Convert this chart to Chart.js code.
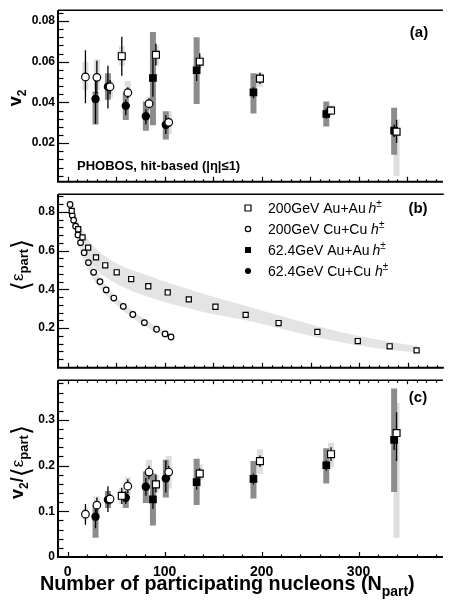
<!DOCTYPE html>
<html>
<head>
<meta charset="utf-8">
<script src="https://cdn.jsdelivr.net/npm/chart.js@4.4.0/dist/chart.umd.min.js"></script>
<style>
  html, body { margin: 0; padding: 0; background: #fff; overflow: hidden; }
  #wrap { position: relative; width: 449px; height: 602px; }
  canvas { position: absolute; left: 0; }
</style>
</head>
<body>
<div id="wrap">
  <canvas id="panelA" width="449" height="192" style="top:0px"></canvas>
  <canvas id="panelB" width="449" height="194" style="top:184px"></canvas>
  <canvas id="panelC" width="449" height="232" style="top:370px"></canvas>
</div>
<script>
// ---- data ----
const xMin = -10, xMax = 387;
const xTickLabels = [0, 100, 200, 300];
const v2Ticks = [0.02, 0.04, 0.06, 0.08];
const epsTicks = [0.2, 0.4, 0.6, 0.8];
const ratioTicks = [0, 0.1, 0.2, 0.3];

// 200 GeV Au+Au (open squares)
const auAu200N = [55.8, 91.0, 136.2, 198.3, 271.6, 339.2];
const auAu200V2 = [0.0627, 0.0634, 0.0600, 0.0517, 0.0360, 0.0256];
const auAu200V2Stat = [[0.0531, 0.0723], [0.0581, 0.0688], [0.0566, 0.0642], [0.0490, 0.0546], [0.0340, 0.0380], [0.0200, 0.0314]];
const auAu200V2Sys = [[0.0581, 0.0676], [0.0581, 0.0680], [0.0572, 0.0627], [0.0477, 0.0547], [0.0337, 0.0386], [0.0039, 0.0317]];
const auAu200R = [0.134, 0.159, 0.1826, 0.210, 0.225, 0.2714];
const auAu200RStat = [[0.116, 0.1516], [0.141, 0.180], [0.1727, 0.194], [0.197, 0.222], [0.210, 0.240], [0.210, 0.317]];
const auAu200RSys = [[0.116, 0.1516], [0.141, 0.180], [0.168, 0.203], [0.182, 0.236], [0.196, 0.250], [0.042, 0.337]];

// 62.4 GeV Au+Au (filled squares)
const auAu62N = [87.9, 133.0, 191.6, 266.7, 336.7];
const auAu62V2 = [0.0520, 0.0558, 0.0449, 0.0343, 0.0261];
const auAu62V2Stat = [[0.0428, 0.0619], [0.0505, 0.0611], [0.0421, 0.0474], [0.0320, 0.0370], [0.0230, 0.0291]];
const auAu62V2Sys = [[0.0288, 0.0746], [0.0392, 0.0720], [0.0345, 0.0543], [0.0282, 0.0404], [0.0143, 0.0374]];
const auAu62R = [0.126, 0.164, 0.171, 0.2008, 0.2566];
const auAu62RStat = [[0.1057, 0.1516], [0.148, 0.180], [0.1586, 0.183], [0.189, 0.211], [0.234, 0.278]];
const auAu62RSys = [[0.069, 0.183], [0.114, 0.215], [0.128, 0.210], [0.161, 0.238], [0.1425, 0.369]];

// 200 GeV Cu+Cu (open circles)
const cuCu200N = [18.3, 30.1, 43.7, 62.0, 83.9, 104.2];
const cuCu200V2 = [0.0525, 0.0523, 0.0477, 0.0448, 0.0394, 0.0302];
const cuCu200V2Stat = [[0.0396, 0.0656], [0.0440, 0.0605], [0.0440, 0.0510], [0.0420, 0.0475], [0.0370, 0.0420], [0.0280, 0.0325]];
const cuCu200V2Sys = [[0.0460, 0.0600], [0.0461, 0.0612], [0.0424, 0.0505], [0.0424, 0.0505], [0.0360, 0.0428], [0.0245, 0.0357]];
const cuCu200R = [0.0938, 0.1135, 0.1268, 0.155, 0.186, 0.186];
const cuCu200RStat = [[0.0706, 0.116], [0.095, 0.130], [0.115, 0.138], [0.140, 0.170], [0.170, 0.200], [0.170, 0.200]];
const cuCu200RSys = [[0.082, 0.106], [0.0917, 0.1325], [0.116, 0.137], [0.135, 0.175], [0.1586, 0.213], [0.150, 0.221]];

// 62.4 GeV Cu+Cu (filled circles)
const cuCu62N = [28.7, 41.5, 59.9, 80.6, 101.2];
const cuCu62V2 = [0.0417, 0.0477, 0.0383, 0.0332, 0.0290];
const cuCu62V2Stat = [[0.0294, 0.0540], [0.0370, 0.0580], [0.0337, 0.0413], [0.0291, 0.0367], [0.0245, 0.0337]];
const cuCu62V2Sys = [[0.0291, 0.0454], [0.0413, 0.0543], [0.0314, 0.0447], [0.0261, 0.0405], [0.0218, 0.0357]];
const cuCu62R = [0.088, 0.1255, 0.1298, 0.1537, 0.172];
const cuCu62RStat = [[0.063, 0.113], [0.0987, 0.155], [0.116, 0.144], [0.134, 0.1727], [0.141, 0.211]];
const cuCu62RSys = [[0.042, 0.113], [0.107, 0.1446], [0.107, 0.1425], [0.118, 0.187], [0.130, 0.213]];

// participant eccentricity (panel b)
const epsAuN = [4.1, 10.8, 15.2, 21.0, 29.1, 38.6, 50.4, 65.3, 82.9, 102.9, 124.6, 152.0, 183.1, 217.0, 256.9, 298.5, 331.3, 359.0];
const epsAu = [0.805, 0.71, 0.668, 0.615, 0.565, 0.524, 0.488, 0.453, 0.416, 0.384, 0.348, 0.31, 0.268, 0.226, 0.18, 0.133, 0.106, 0.085];
const epsCuN = [2.4, 4.7, 6.1, 8.1, 10.5, 13.2, 16.9, 21.3, 26.7, 33.2, 39.6, 47.4, 57.2, 67.0, 78.9, 91.4, 100.2, 106.3];
const epsCu = [0.838, 0.782, 0.757, 0.726, 0.681, 0.641, 0.589, 0.538, 0.488, 0.44, 0.397, 0.355, 0.312, 0.27, 0.228, 0.194, 0.17, 0.154];
const bandAuN = [2, 10, 20, 30, 50, 83, 134, 183, 220, 257, 298, 331, 360];
const bandAuHi = [0.86, 0.76, 0.665, 0.605, 0.535, 0.47, 0.385, 0.315, 0.262, 0.21, 0.16, 0.13, 0.107];
const bandAuLo = [0.78, 0.665, 0.565, 0.50, 0.43, 0.36, 0.29, 0.24, 0.197, 0.152, 0.112, 0.088, 0.074];
const bandCuN = [2, 10, 20, 30, 47, 67, 91, 108];
const bandCuHi = [0.87, 0.72, 0.575, 0.485, 0.375, 0.29, 0.21, 0.165];
const bandCuLo = [0.81, 0.65, 0.51, 0.425, 0.335, 0.25, 0.18, 0.143];

const legendLabels = ['200GeV Au+Au', '200GeV Cu+Cu', '62.4GeV Au+Au', '62.4GeV Cu+Cu'];

// ---- helpers ----
const FONT = 'Liberation Sans, Arial, Helvetica, sans-serif';
const DARK = '#8c8c8c', LIGHT = '#dedede', BAND = '#e4e4e4';

function pts(xs, ys) {
  return xs.map((x, i) => ({x: x, y: ys[i]}));
}

// vertical segments separated by gaps
function segs(xs, ranges) {
  const out = [];
  xs.forEach((x, i) => {
    out.push({x: x, y: ranges[i][0]}, {x: x, y: ranges[i][1]}, {x: x, y: null});
  });
  return out;
}

function bars(xs, ranges, color, width, order) {
  return {
    type: 'line', data: segs(xs, ranges), borderColor: color, borderWidth: width,
    borderCapStyle: 'butt', pointRadius: 0, fill: false, order: order
  };
}

function marks(xs, ys, style, filled, radius) {
  return {
    type: 'line', showLine: false, data: pts(xs, ys), pointStyle: style, pointRadius: radius,
    pointBackgroundColor: filled ? '#000' : '#fff', pointBorderColor: '#000',
    pointBorderWidth: 1.2, order: filled ? 1 : 0
  };
}

function xScale(labels, height) {
  return {
    type: 'linear', min: xMin, max: xMax,
    afterBuildTicks: s => { s.ticks = xTickLabels.map(v => ({value: v})); },
    afterFit: s => { s.height = height; },
    grid: {display: false, drawTicks: false}, border: {display: false},
    ticks: {display: labels, color: '#000', padding: 7, maxRotation: 0, autoSkip: false,
      font: {family: FONT, weight: 'bold', size: 14}}
  };
}

function yScale(min, max, ticks) {
  return {
    type: 'linear', min: min, max: max,
    afterBuildTicks: s => { s.ticks = ticks.map(v => ({value: v})); },
    afterFit: s => { s.width = 58; },
    grid: {display: false, drawTicks: false}, border: {display: false},
    ticks: {color: '#000', padding: 3, autoSkip: false, callback: v => String(v),
      font: {family: FONT, weight: 'bold', size: 12}}
  };
}

function drawRich(ctx, parts, x, y, rot, align) {
  ctx.save();
  ctx.translate(x, y);
  if (rot) ctx.rotate(rot);
  let w = 0;
  parts.forEach(p => { ctx.font = p.font; p.w = ctx.measureText(p.t).width; w += p.w; });
  let cx = align === 'left' ? 0 : -w / 2;
  ctx.textAlign = 'left';
  ctx.textBaseline = 'alphabetic';
  ctx.fillStyle = '#000';
  parts.forEach(p => { ctx.font = p.font; ctx.fillText(p.t, cx, p.dy || 0); cx += p.w; });
  ctx.restore();
  return w;
}

function epsParts(size) {
  return [
    {t: '\u27E8', font: '26px DejaVu Sans', dy: 7},
    {t: '\u03B5', font: size + 'px ' + FONT, dy: 0},
    {t: 'part', font: 'bold 13px ' + FONT, dy: 5},
    {t: '\u27E9', font: '26px DejaVu Sans', dy: 7}
  ];
}

// frame, inward ticks and panel texts (text coordinates are canvas-local)
function panelPlugin(cfg) {
  return {
    id: 'panel' + cfg.name,
    afterDraw(chart) {
      const ctx = chart.ctx, a = chart.chartArea;
      const x = chart.scales.x, y = chart.scales.y;
      ctx.save();
      ctx.strokeStyle = '#000';
      // ticks on the left axis
      ctx.lineWidth = 1.2;
      const ms = cfg.yMinor;
      for (let k = Math.ceil(y.min / ms - 1e-6); k * ms <= y.max + 1e-9; k++) {
        const py = Math.round(y.getPixelForValue(k * ms)) + 0.5;
        if (py < a.top + 1 || py > a.bottom - 1) continue;
        const len = k % cfg.yEvery === 0 ? 11 : 5.5;
        ctx.beginPath(); ctx.moveTo(a.left, py); ctx.lineTo(a.left + len, py); ctx.stroke();
      }
      // ticks on bottom / top
      const xt = (step, every, base, dir, big, small) => {
        for (let k = Math.ceil(xMin / step); k * step <= xMax; k++) {
          const px = Math.round(x.getPixelForValue(k * step)) + 0.5;
          if (px < a.left + 2) continue;
          const len = k % every === 0 ? big : small;
          ctx.beginPath(); ctx.moveTo(px, base); ctx.lineTo(px, base + dir * len); ctx.stroke();
        }
      };
      xt(cfg.xMinor, cfg.xEvery, a.bottom, -1, 5, 2.5);
      if (cfg.topTicks) xt(10, 5, a.top, 1, 4, 2.5);
      // frame
      ctx.lineWidth = 2;
      ctx.beginPath();
      ctx.moveTo(a.left, a.top); ctx.lineTo(a.left, a.bottom);
      ctx.moveTo(a.left - 1, a.bottom); ctx.lineTo(a.right, a.bottom);
      ctx.stroke();
      ctx.lineWidth = 1.5;
      ctx.beginPath(); ctx.moveTo(a.left, a.top); ctx.lineTo(a.right, a.top); ctx.stroke();
      ctx.restore();
      cfg.texts(ctx, a);
    }
  };
}

function baseOptions(xs, ys, top) {
  return {
    responsive: false, animation: false, events: [],
    layout: {padding: {top: top, left: 0, right: 0, bottom: 0}},
    plugins: {legend: {display: false}, tooltip: {enabled: false}},
    scales: {x: xs, y: ys}
  };
}

// ---- panel (a): v2 ----
new Chart(document.getElementById('panelA'), {
  type: 'scatter',
  data: {datasets: [
    bars(auAu200N, auAu200V2Sys, LIGHT, 6, 4),
    bars(cuCu200N, cuCu200V2Sys, LIGHT, 6, 4),
    bars(auAu62N, auAu62V2Sys, DARK, 6, 3),
    bars(cuCu62N, cuCu62V2Sys, DARK, 6, 3),
    bars(auAu200N, auAu200V2Stat, '#000', 1.3, 2),
    bars(cuCu200N, cuCu200V2Stat, '#000', 1.3, 2),
    bars(auAu62N, auAu62V2Stat, '#000', 1.3, 2),
    bars(cuCu62N, cuCu62V2Stat, '#000', 1.3, 2),
    marks(auAu62N, auAu62V2, 'rect', true, 4.6),
    marks(cuCu62N, cuCu62V2, 'circle', true, 3.6),
    marks(auAu200N, auAu200V2, 'rect', false, 4.9),
    marks(cuCu200N, cuCu200V2, 'circle', false, 3.8)
  ]},
  options: baseOptions(xScale(false, 4), yScale(0.001, 0.0853, v2Ticks), 4),
  plugins: [panelPlugin({
    name: 'A', yMinor: 0.004, yEvery: 5, xMinor: 10, xEvery: 5,
    texts: (ctx) => {
      drawRich(ctx, [{t: 'v', font: 'bold 18px ' + FONT}, {t: '2', font: 'bold 12px ' + FONT, dy: 5}], 21, 98, -Math.PI / 2);
      drawRich(ctx, [{t: '(a)', font: 'bold 15px ' + FONT}], 419, 37);
      drawRich(ctx, [{t: 'PHOBOS, hit-based (|\u03B7|\u22641)', font: 'bold 13px ' + FONT}], 77, 170, 0, 'left');
    }
  })]
});

// ---- panel (b): eccentricity ----
new Chart(document.getElementById('panelB'), {
  type: 'scatter',
  data: {datasets: [
    {type: 'line', data: pts(bandAuN, bandAuHi), borderColor: 'rgba(0,0,0,0)', borderWidth: 1, pointRadius: 0,
      cubicInterpolationMode: 'monotone', fill: false, order: 5},
    {type: 'line', data: pts(bandAuN, bandAuLo), borderColor: 'rgba(0,0,0,0)', borderWidth: 1, pointRadius: 0,
      cubicInterpolationMode: 'monotone', fill: '-1', backgroundColor: BAND, order: 5},
    {type: 'line', data: pts(bandCuN, bandCuHi), borderColor: 'rgba(0,0,0,0)', borderWidth: 1, pointRadius: 0,
      cubicInterpolationMode: 'monotone', fill: false, order: 5},
    {type: 'line', data: pts(bandCuN, bandCuLo), borderColor: 'rgba(0,0,0,0)', borderWidth: 1, pointRadius: 0,
      cubicInterpolationMode: 'monotone', fill: '-1', backgroundColor: BAND, order: 5},
    marks(epsAuN, epsAu, 'rect', false, 3.6),
    marks(epsCuN, epsCu, 'circle', false, 2.8)
  ]},
  options: baseOptions(xScale(false, 4), yScale(-0.005, 0.891, epsTicks), 4),
  plugins: [panelPlugin({
    name: 'B', yMinor: 0.04, yEvery: 5, xMinor: 10, xEvery: 5,
    texts: (ctx) => {
      drawRich(ctx, epsParts(17), 23, 81, -Math.PI / 2);
      drawRich(ctx, [{t: '(b)', font: 'bold 15px ' + FONT}], 418, 29);
      const rows = [24, 45, 66, 87];
      ctx.save();
      ctx.strokeStyle = '#000'; ctx.lineWidth = 1.2;
      rows.forEach((ry, i) => {
        const mx = 248;
        ctx.beginPath();
        if (i === 0) { ctx.fillStyle = '#fff'; ctx.rect(mx - 3, ry - 3, 6, 6); ctx.fill(); ctx.stroke(); }
        if (i === 1) { ctx.fillStyle = '#fff'; ctx.arc(mx, ry, 2.7, 0, Math.PI * 2); ctx.fill(); ctx.stroke(); }
        if (i === 2) { ctx.fillStyle = '#000'; ctx.rect(mx - 3, ry - 3, 6, 6); ctx.fill(); }
        if (i === 3) { ctx.fillStyle = '#000'; ctx.arc(mx, ry, 3, 0, Math.PI * 2); ctx.fill(); }
      });
      ctx.restore();
      rows.forEach((ry, i) => {
        drawRich(ctx, [
          {t: legendLabels[i] + (i % 2 === 0 ? '\u2009' : ' '), font: '14px ' + FONT},
          {t: 'h', font: 'italic 14px ' + FONT},
          {t: '\u00B1', font: '10px ' + FONT, dy: -6}
        ], 268, ry + 5, 0, 'left');
      });
    }
  })]
});

// ---- panel (c): v2 / eccentricity ----
new Chart(document.getElementById('panelC'), {
  type: 'scatter',
  data: {datasets: [
    bars(auAu200N, auAu200RSys, LIGHT, 6, 4),
    bars(cuCu200N, cuCu200RSys, LIGHT, 6, 4),
    bars(auAu62N, auAu62RSys, DARK, 6, 3),
    bars(cuCu62N, cuCu62RSys, DARK, 6, 3),
    bars(auAu200N, auAu200RStat, '#000', 1.3, 2),
    bars(cuCu200N, cuCu200RStat, '#000', 1.3, 2),
    bars(auAu62N, auAu62RStat, '#000', 1.3, 2),
    bars(cuCu62N, cuCu62RStat, '#000', 1.3, 2),
    marks(auAu62N, auAu62R, 'rect', true, 4.6),
    marks(cuCu62N, cuCu62R, 'circle', true, 3.6),
    marks(auAu200N, auAu200R, 'rect', false, 4.9),
    marks(cuCu200N, cuCu200R, 'circle', false, 3.8)
  ]},
  options: baseOptions(xScale(true, 45), yScale(0, 0.387, ratioTicks), 4),
  plugins: [panelPlugin({
    name: 'C', yMinor: 0.02, yEvery: 5, xMinor: 20, xEvery: 5, topTicks: true,
    texts: (ctx) => {
      const parts = [{t: 'v', font: 'bold 18px ' + FONT}, {t: '2', font: 'bold 12px ' + FONT, dy: 5},
        {t: '/', font: 'bold 18px ' + FONT}].concat(epsParts(17));
      drawRich(ctx, parts, 23, 92, -Math.PI / 2);
      drawRich(ctx, [{t: '(c)', font: 'bold 15px ' + FONT}], 418, 32);
      // x axis title, fitted to the original width
      const main = 'Number of participating nucleons (N';
      ctx.font = 'bold 16px ' + FONT;
      const w16 = ctx.measureText(main + ')').width + ctx.measureText('part').width * 0.7;
      const f = 16 * 375 / w16;
      drawRich(ctx, [
        {t: main, font: 'bold ' + f.toFixed(1) + 'px ' + FONT},
        {t: 'part', font: 'bold ' + (f * 0.7).toFixed(1) + 'px ' + FONT, dy: 6},
        {t: ')', font: 'bold ' + f.toFixed(1) + 'px ' + FONT}
      ], 40, 220, 0, 'left');
    }
  })]
});
</script>
</body>
</html>
